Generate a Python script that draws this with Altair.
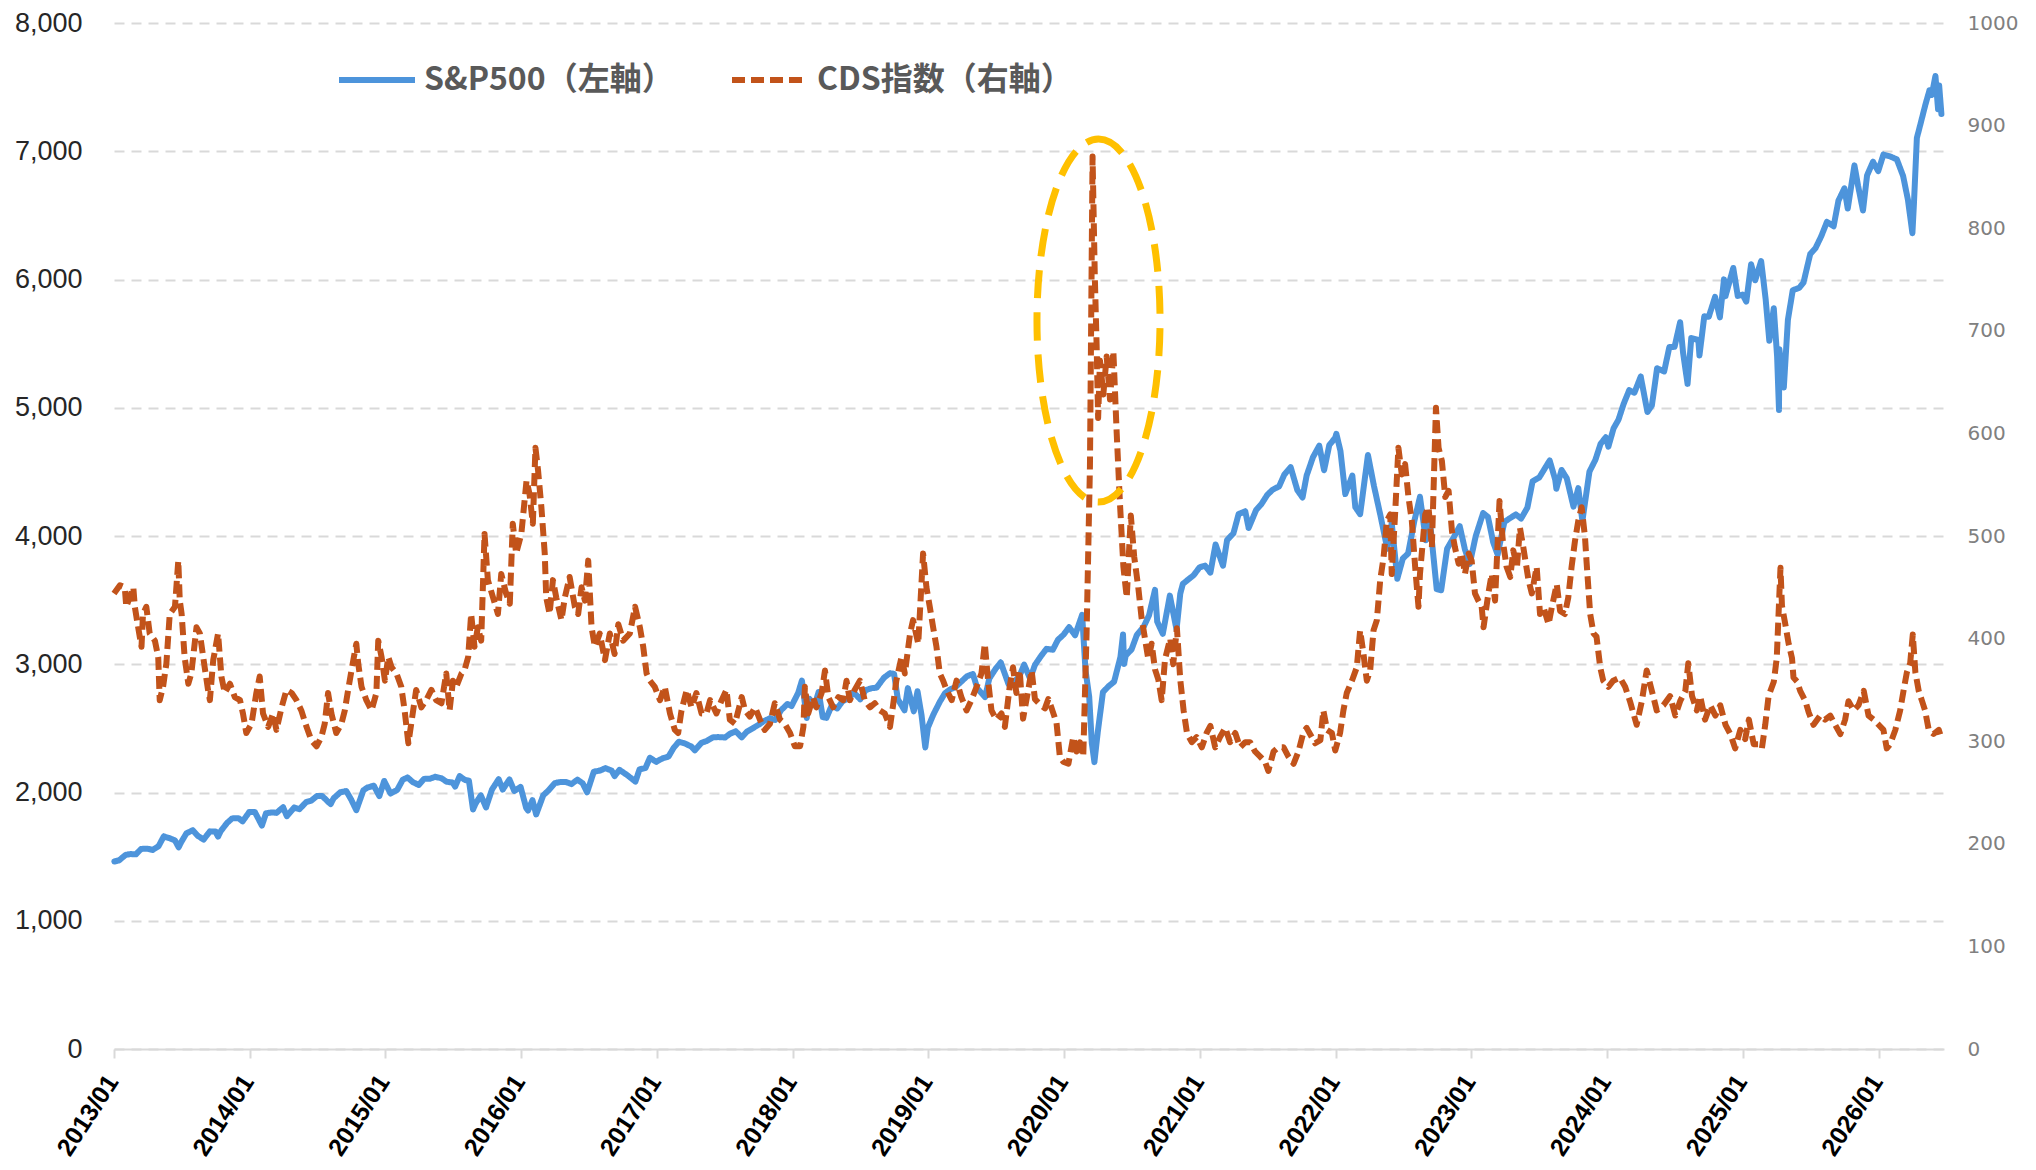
import altair as alt
import pandas as pd

SP_NAME = "S&P500（左軸）"
CDS_NAME = "CDS指数（右軸）"

# S&P500 (left axis)
sp_dates = [
    "2013-01-02","2013-01-15","2013-02-01","2013-02-15","2013-03-01","2013-03-15","2013-04-01","2013-04-15",
    "2013-05-01","2013-05-15","2013-06-03","2013-06-14","2013-06-24","2013-07-01","2013-07-15","2013-08-01",
    "2013-08-15","2013-08-30","2013-09-16","2013-10-01","2013-10-08","2013-10-15","2013-11-01","2013-11-15",
    "2013-12-02","2013-12-13","2013-12-31",
    "2014-01-15","2014-02-03","2014-02-14","2014-03-03","2014-03-14","2014-04-01","2014-04-11","2014-05-01",
    "2014-05-15","2014-06-02","2014-06-16","2014-07-01","2014-07-15","2014-08-01","2014-08-07","2014-08-15",
    "2014-09-02","2014-09-18","2014-10-01","2014-10-15","2014-11-03","2014-11-14","2014-12-01","2014-12-16",
    "2014-12-29",
    "2015-01-15","2015-02-02","2015-02-17","2015-03-02","2015-03-16","2015-04-01","2015-04-15","2015-05-01",
    "2015-05-15","2015-06-01","2015-06-15","2015-07-01","2015-07-08","2015-07-20","2015-08-03","2015-08-14",
    "2015-08-25","2015-09-01","2015-09-15","2015-09-29","2015-10-15","2015-11-02","2015-11-13","2015-12-01",
    "2015-12-14","2015-12-31",
    "2016-01-15","2016-01-20","2016-02-01","2016-02-11","2016-03-01","2016-03-15","2016-04-01","2016-04-15",
    "2016-05-02","2016-05-16","2016-06-01","2016-06-15","2016-06-27","2016-07-15","2016-08-01","2016-08-15",
    "2016-09-01","2016-09-09","2016-09-22","2016-10-14","2016-11-04","2016-11-15","2016-12-01","2016-12-13",
    "2016-12-30",
    "2017-01-17","2017-02-01","2017-02-15","2017-03-01","2017-03-15","2017-04-03","2017-04-13","2017-05-01",
    "2017-05-15","2017-06-01","2017-06-15","2017-07-03","2017-07-17","2017-08-01","2017-08-17","2017-09-01",
    "2017-09-15","2017-10-02","2017-10-16","2017-11-01","2017-11-15","2017-12-01","2017-12-18","2017-12-29",
    "2018-01-16","2018-01-26","2018-02-08","2018-02-15","2018-03-01","2018-03-12","2018-03-23","2018-04-02",
    "2018-04-16","2018-05-01","2018-05-15","2018-06-01","2018-06-15","2018-07-02","2018-07-16","2018-08-01",
    "2018-08-15","2018-09-04","2018-09-20","2018-10-01","2018-10-11","2018-10-29","2018-11-07","2018-11-23",
    "2018-12-03","2018-12-14","2018-12-24","2018-12-31",
    "2019-01-15","2019-02-01","2019-02-15","2019-03-01","2019-03-15","2019-04-01","2019-04-15","2019-05-01",
    "2019-05-13","2019-06-03","2019-06-14","2019-07-01","2019-07-15","2019-08-05","2019-08-15","2019-09-03",
    "2019-09-16","2019-10-02","2019-10-15","2019-11-01","2019-11-15","2019-12-02","2019-12-16","2019-12-31",
    "2020-01-15","2020-01-31","2020-02-19","2020-02-28","2020-03-09","2020-03-16","2020-03-23","2020-04-01",
    "2020-04-15","2020-05-01","2020-05-15","2020-06-01","2020-06-08","2020-06-11","2020-06-15","2020-07-01",
    "2020-07-15","2020-08-03","2020-08-17","2020-09-02","2020-09-08","2020-09-23","2020-10-12","2020-10-30",
    "2020-11-09","2020-11-16","2020-12-01","2020-12-15","2020-12-31",
    "2021-01-15","2021-01-29","2021-02-12","2021-03-04","2021-03-15","2021-04-01","2021-04-15","2021-05-03",
    "2021-05-12","2021-06-01","2021-06-15","2021-07-01","2021-07-15","2021-08-02","2021-08-16","2021-09-02",
    "2021-09-20","2021-10-04","2021-10-15","2021-11-01","2021-11-18","2021-12-01","2021-12-15","2021-12-31",
    "2022-01-03","2022-01-14","2022-01-27","2022-02-15","2022-02-23","2022-03-08","2022-03-29","2022-04-14",
    "2022-05-02","2022-05-20","2022-06-01","2022-06-16","2022-07-01","2022-07-15","2022-08-01","2022-08-16",
    "2022-09-01","2022-09-12","2022-09-30","2022-10-12","2022-10-28","2022-11-15","2022-12-01","2022-12-15",
    "2022-12-28",
    "2023-01-13","2023-02-02","2023-02-15","2023-03-01","2023-03-13","2023-03-31","2023-04-14","2023-05-01",
    "2023-05-15","2023-06-01","2023-06-15","2023-07-03","2023-07-31","2023-08-15","2023-08-18","2023-09-01",
    "2023-09-15","2023-10-03","2023-10-16","2023-10-27","2023-11-15","2023-12-01","2023-12-15","2023-12-29",
    "2024-01-05","2024-01-19","2024-02-01","2024-02-15","2024-03-01","2024-03-15","2024-04-01","2024-04-19",
    "2024-05-01","2024-05-15","2024-06-03","2024-06-17","2024-07-01","2024-07-16","2024-07-24","2024-08-05",
    "2024-08-15","2024-09-03","2024-09-06","2024-09-19","2024-10-01","2024-10-18","2024-10-31","2024-11-11",
    "2024-11-15","2024-12-06","2024-12-18","2024-12-31",
    "2025-01-10","2025-01-23","2025-02-03","2025-02-19","2025-03-03","2025-03-13","2025-03-25","2025-04-03",
    "2025-04-08","2025-04-09","2025-04-21","2025-05-02","2025-05-15","2025-06-02","2025-06-13","2025-07-01",
    "2025-07-15","2025-07-31","2025-08-15","2025-09-02","2025-09-15","2025-10-01","2025-10-10","2025-10-28",
    "2025-11-07","2025-11-20","2025-12-01","2025-12-17","2025-12-31",
    "2026-01-14","2026-02-01","2026-02-19","2026-03-08","2026-03-21","2026-04-02","2026-04-06","2026-04-14",
    "2026-04-24","2026-05-07","2026-05-18","2026-05-24","2026-06-03","2026-06-10","2026-06-13","2026-06-19",
]
sp_values = [
    1462,1472,1513,1520,1518,1560,1562,1552,1582,1658,1640,1626,1573,1614,1682,1706,
    1661,1633,1697,1695,1656,1698,1762,1798,1800,1775,1848,
    1848,1742,1838,1845,1841,1885,1815,1883,1870,1925,1937,1973,1973,1925,1910,1955,
    2002,2011,1946,1862,2017,2039,2053,1972,2090,
    1992,2020,2100,2117,2081,2059,2106,2108,2122,2111,2084,2077,2046,2128,2098,2092,
    1868,1914,1978,1884,2023,2104,2023,2102,2012,2044,
    1880,1859,1940,1829,1978,2016,2073,2081,2081,2066,2100,2072,2001,2162,2171,2190,
    2171,2128,2177,2133,2085,2180,2191,2271,2239,
    2268,2280,2349,2396,2385,2359,2329,2388,2402,2431,2432,2429,2459,2477,2430,2477,
    2500,2529,2557,2579,2565,2642,2690,2674,
    2777,2873,2581,2731,2678,2784,2588,2582,2677,2655,2711,2735,2780,2726,2798,2813,
    2818,2896,2930,2924,2728,2641,2814,2633,2790,2600,2351,2507,
    2610,2707,2775,2804,2822,2868,2906,2924,2812,2744,2887,2964,3014,2844,2848,2906,
    2997,2887,2995,3067,3120,3113,3191,3231,
    3289,3226,3386,2954,2747,2386,2237,2470,2783,2831,2864,3056,3232,3002,3066,3116,
    3227,3295,3382,3580,3332,3237,3535,3270,3550,3627,3662,3694,3756,
    3768,3714,3934,3768,3969,4020,4171,4192,4063,4202,4247,4320,4360,4387,4479,4537,
    4358,4300,4471,4614,4704,4513,4709,4766,
    4797,4663,4327,4471,4225,4170,4631,4393,4155,3901,4101,3667,3825,3863,4119,4305,
    3967,4110,3586,3577,3901,3991,4076,3895,3783,
    3999,4179,4148,3951,3855,4109,4137,4168,4136,4221,4426,4456,4589,4438,4369,4515,
    4450,4229,4373,4117,4502,4594,4719,4770,
    4697,4840,4906,5030,5137,5117,5243,4967,5018,5308,5283,5473,5475,5667,5427,5186,
    5543,5528,5408,5713,5709,5864,5705,6001,5870,6090,5872,5882,
    5827,6119,5994,6144,5850,5522,5776,5397,4983,5457,5158,5686,5916,5936,5977,6198,
    6243,6339,6449,6415,6615,6711,6553,6890,6728,6538,6812,6918,6845,
    6974,6960,6937,6807,6621,6361,6584,7104,7216,7364,7476,7439,7587,7327,7513,7290,
]

cds_t = [
    2013.000,2013.044,2013.081,2013.093,2013.143,2013.155,2013.179,2013.204,2013.216,2013.241,2013.265,2013.302,
    2013.327,2013.339,2013.364,2013.388,2013.413,2013.450,2013.474,2013.486,2013.499,2013.523,2013.548,2013.572,
    2013.609,2013.634,2013.671,2013.695,2013.708,2013.732,2013.769,2013.794,2013.818,2013.855,2013.892,2013.929,
    2013.953,2013.978,2014.015,2014.052,2014.076,2014.101,2014.138,2014.174,2014.199,2014.236,2014.273,2014.310,
    2014.346,2014.383,2014.420,2014.457,2014.494,2014.531,2014.555,2014.580,2014.604,2014.641,2014.678,2014.703,
    2014.727,2014.752,2014.789,2014.801,2014.826,2014.862,2014.899,2014.936,2014.948,2014.973,2014.998,2015.022,
    2015.047,2015.084,2015.120,2015.145,2015.170,2015.206,2015.230,2015.267,2015.304,2015.341,2015.377,2015.414,
    2015.451,2015.476,2015.500,2015.525,2015.562,2015.586,2015.611,2015.635,2015.660,2015.684,2015.709,2015.734,
    2015.758,2015.795,2015.832,2015.856,2015.893,2015.918,2015.942,2015.967,2016.004,2016.041,2016.065,2016.090,
    2016.109,2016.127,2016.151,2016.176,2016.188,2016.213,2016.237,2016.262,2016.298,2016.323,2016.360,2016.397,
    2016.421,2016.446,2016.470,2016.495,2016.520,2016.544,2016.581,2016.618,2016.655,2016.691,2016.716,2016.753,
    2016.802,2016.839,2016.876,2016.900,2016.925,2016.949,2016.986,2017.023,2017.060,2017.097,2017.134,2017.158,
    2017.183,2017.220,2017.256,2017.293,2017.330,2017.367,2017.392,2017.441,2017.478,2017.515,2017.539,2017.576,
    2017.625,2017.650,2017.687,2017.724,2017.760,2017.797,2017.834,2017.871,2017.908,2017.945,2017.981,2018.018,
    2018.055,2018.080,2018.092,2018.117,2018.153,2018.178,2018.215,2018.239,2018.264,2018.301,2018.338,2018.374,
    2018.399,2018.424,2018.460,2018.497,2018.534,2018.571,2018.608,2018.645,2018.681,2018.718,2018.743,2018.767,
    2018.804,2018.829,2018.866,2018.890,2018.927,2018.964,2018.988,2019.013,2019.038,2019.062,2019.087,2019.111,
    2019.136,2019.173,2019.209,2019.246,2019.283,2019.320,2019.357,2019.394,2019.418,2019.443,2019.467,2019.504,
    2019.541,2019.566,2019.602,2019.627,2019.651,2019.676,2019.701,2019.738,2019.763,2019.787,2019.824,2019.861,
    2019.885,2019.910,2019.947,2019.971,2019.996,2020.033,2020.070,2020.094,2020.119,2020.143,2020.168,2020.192,
    2020.212,2020.229,2020.242,2020.254,2020.266,2020.291,2020.315,2020.340,2020.364,2020.389,2020.413,2020.438,
    2020.463,2020.492,2020.517,2020.549,2020.573,2020.598,2020.622,2020.647,2020.671,2020.696,2020.720,2020.745,
    2020.782,2020.806,2020.831,2020.856,2020.880,2020.905,2020.942,2020.978,2021.015,2021.052,2021.077,2021.113,
    2021.150,2021.187,2021.224,2021.261,2021.298,2021.335,2021.371,2021.408,2021.445,2021.482,2021.506,2021.543,
    2021.580,2021.617,2021.654,2021.691,2021.727,2021.764,2021.789,2021.851,2021.888,2021.912,2021.937,2021.974,
    2021.998,2022.035,2022.060,2022.084,2022.121,2022.158,2022.182,2022.207,2022.232,2022.256,2022.281,2022.305,
    2022.330,2022.354,2022.379,2022.403,2022.416,2022.440,2022.465,2022.489,2022.514,2022.538,2022.563,2022.588,
    2022.612,2022.624,2022.661,2022.686,2022.710,2022.742,2022.760,2022.784,2022.809,2022.833,2022.858,2022.882,
    2022.907,2022.931,2022.956,2022.981,2023.005,2023.030,2023.054,2023.079,2023.091,2023.128,2023.153,2023.177,
    2023.209,2023.234,2023.263,2023.288,2023.312,2023.337,2023.361,2023.386,2023.423,2023.447,2023.484,2023.509,
    2023.533,2023.570,2023.595,2023.631,2023.656,2023.693,2023.717,2023.742,2023.766,2023.791,2023.816,2023.840,
    2023.852,2023.877,2023.902,2023.926,2023.951,2023.975,2024.012,2024.049,2024.098,2024.135,2024.172,2024.221,
    2024.258,2024.294,2024.331,2024.368,2024.417,2024.466,2024.503,2024.540,2024.577,2024.601,2024.626,2024.663,
    2024.687,2024.724,2024.761,2024.798,2024.835,2024.872,2024.908,2024.945,2024.982,2025.019,2025.044,2025.080,
    2025.117,2025.142,2025.166,2025.191,2025.228,2025.252,2025.277,2025.289,2025.314,2025.338,2025.363,2025.375,
    2025.400,2025.424,2025.461,2025.486,2025.522,2025.572,2025.608,2025.645,2025.682,2025.719,2025.756,2025.780,
    2025.817,2025.854,2025.891,2025.928,2025.965,2026.001,2026.038,2026.063,2026.087,2026.124,2026.161,2026.186,
    2026.210,2026.235,2026.254,2026.272,2026.296,2026.321,2026.345,2026.370,2026.407,2026.444,2026.468,
]
cds_v = [
    444,452,450,431,450,431,411,392,424,431,405,398,
    382,340,353,376,424,431,476,437,424,382,356,366,
    411,405,372,350,340,379,405,363,347,356,343,340,
    327,308,317,347,363,327,314,327,311,333,350,347,
    340,330,314,301,295,304,317,347,327,308,317,330,
    350,369,395,376,353,340,330,347,398,382,359,382,
    372,366,353,330,298,330,350,333,340,350,340,337,
    366,330,359,353,366,369,382,424,392,411,398,502,
    457,440,424,463,444,434,512,483,502,554,541,512,
    586,564,528,483,440,424,457,440,418,440,460,431,
    424,450,437,476,411,392,405,379,405,385,414,398,
    405,431,411,392,366,359,353,340,353,327,311,308,
    330,350,333,347,327,327,340,327,340,350,321,317,
    343,330,324,333,321,311,317,337,321,317,308,295,
    295,314,353,327,343,333,347,369,343,333,343,340,
    359,340,350,359,340,333,337,330,327,314,337,359,
    382,366,405,418,395,483,450,431,411,392,366,359,
    350,340,359,343,330,340,353,366,395,359,330,321,
    327,314,353,372,347,369,322,350,369,341,336,332,
    341,332,318,285,280,278,304,290,299,285,406,568,
    870,754,685,615,671,638,675,633,680,600,530,470,
    440,520,480,450,420,400,380,395,370,360,340,380,
    400,375,410,360,330,308,299,304,294,308,315,294,
    304,313,299,308,294,299,299,290,285,280,271,290,
    294,294,285,278,290,308,313,298,301,330,311,308,
    291,308,330,347,359,372,408,385,359,369,408,418,
    457,479,515,521,463,521,586,560,570,538,515,470,
    431,463,521,528,489,625,586,573,538,544,505,489,
    473,483,463,483,476,444,437,431,411,444,463,437,
    534,495,470,460,486,470,508,489,457,444,470,424,
    431,414,431,453,427,424,440,470,495,515,528,499,
    476,424,405,402,372,359,353,359,362,353,339,316,
    339,369,349,330,335,344,325,339,349,376,344,330,
    344,321,335,325,335,316,307,293,311,302,321,297,
    297,293,316,344,358,381,469,432,414,395,381,362,
    358,349,339,328,316,325,321,325,316,307,321,339,
    330,335,349,325,321,316,311,293,297,311,330,349,
    367,376,404,367,349,339,330,311,307,311,302,
]

# Annotation ellipse around the 2020 spike (center, right-axis units)
ellipse_date = ["2020-04-03"]
ellipse_value = [710]


def frac_year_to_date(t):
    year = int(t)
    start = pd.Timestamp(year=year, month=1, day=1)
    end = pd.Timestamp(year=year + 1, month=1, day=1)
    return (start + (end - start) * (t - year)).strftime("%Y-%m-%d")


sp_df = pd.DataFrame({"date": sp_dates, "value": sp_values, "series": SP_NAME})
cds_df = pd.DataFrame({"date": [frac_year_to_date(t) for t in cds_t], "value": cds_v, "series": CDS_NAME})
ell_df = pd.DataFrame({"date": ellipse_date, "value": ellipse_value})

BLUE = "#4D94DB"
ORANGE = "#C2531A"
GOLD = "#FFC000"

x_scale = alt.Scale(
    type="utc",
    domain=[alt.DateTime(year=2013, month=1, date=1, utc=True),
            alt.DateTime(year=2026, month=6, date=26, utc=True)],
)
x_axis = alt.Axis(
    title=None,
    values=[alt.DateTime(year=y, month=1, date=1, utc=True) for y in range(2013, 2027)],
    format="%Y/%m",
    labelAngle=-57,
    labelAlign="right",
    labelBaseline="middle",
    labelFont="Liberation Sans",
    labelFontSize=25,
    labelFontWeight="bold",
    labelColor="#000000",
    labelPadding=19,
    labelOffset=-2,
    labelOverlap=False,
    labelFlush=False,
    domainColor="#D9D9D9",
    domainWidth=2,
    tickColor="#D9D9D9",
    tickWidth=2,
    tickSize=9,
    grid=False,
)
x_enc = alt.X("date:T", scale=x_scale, axis=x_axis)

legend = alt.Legend(
    title=None,
    orient="none",
    legendX=222,
    legendY=16,
    direction="horizontal",
    symbolType="stroke",
    symbolSize=5776,
    symbolStrokeWidth=6,
    labelFont="Noto Sans CJK JP",
    labelFontSize=32,
    labelFontWeight="bold",
    labelColor="#595959",
    labelLimit=1000,
    labelOffset=6,
    columnPadding=46,
    padding=0,
)
color_enc = alt.Color(
    "series:N",
    scale=alt.Scale(domain=[SP_NAME, CDS_NAME], range=[BLUE, ORANGE]),
    legend=legend,
)
dash_enc = alt.StrokeDash(
    "series:N",
    scale=alt.Scale(domain=[SP_NAME, CDS_NAME], range=[[1, 0], [13, 6]]),
    legend=legend,
)

sp_line = alt.Chart(sp_df).mark_line(strokeWidth=6, strokeCap="round", strokeJoin="round").encode(
    x=x_enc,
    y=alt.Y(
        "value:Q",
        scale=alt.Scale(domain=[0, 8000], nice=False, zero=True),
        axis=alt.Axis(
            orient="left",
            title=None,
            values=list(range(0, 8001, 1000)),
            format=",d",
            domain=False,
            ticks=False,
            labelFont="Liberation Sans Narrow, Liberation Sans",
            labelFontSize=27,
            labelColor="#262626",
            labelPadding=32,
            grid=True,
            gridColor="#D9D9D9",
            gridDash=[10, 7],
            gridWidth=2,
        ),
    ),
    color=color_enc,
    strokeDash=dash_enc,
)

cds_line = alt.Chart(cds_df).mark_line(strokeWidth=6, strokeCap="butt", strokeJoin="round").encode(
    x=x_enc,
    y=alt.Y(
        "value:Q",
        scale=alt.Scale(domain=[0, 1000], nice=False, zero=True),
        axis=alt.Axis(
            orient="right",
            title=None,
            values=list(range(0, 1001, 100)),
            format="d",
            domain=False,
            ticks=False,
            grid=False,
            labelFont="DejaVu Sans",
            labelFontSize=20,
            labelColor="#808080",
            labelPadding=23,
        ),
    ),
    color=color_enc,
    strokeDash=dash_enc,
)

RX = 0.339
K = 0.5523
ellipse_path = (
    f"M 0 -1 C {K*RX:.4f} -1 {RX} {-K:.4f} {RX} 0 "
    f"C {RX} {K:.4f} {K*RX:.4f} 1 0 1 "
    f"C {-K*RX:.4f} 1 {-RX} {K:.4f} {-RX} 0 "
    f"C {-RX} {-K:.4f} {-K*RX:.4f} -1 0 -1 Z"
)

ellipse = alt.Chart(ell_df).mark_point(
    shape=ellipse_path,
    size=363 * 363,
    filled=False,
    stroke=GOLD,
    strokeWidth=7,
    strokeDash=[28, 14],
    opacity=1,
).encode(
    x=x_enc,
    y=alt.Y("value:Q", scale=alt.Scale(domain=[0, 1000], nice=False, zero=True), axis=None),
)

chart = (
    alt.layer(sp_line, cds_line, ellipse)
    .resolve_scale(y="independent")
    .properties(
        width=1830,
        height=1026,
        padding={"left": 106, "top": 15, "right": 84, "bottom": 113},
        autosize=alt.AutoSizeParams(type="none"),
        background="white",
    )
    .configure_view(stroke=None)
)

chart.save("out.html", embed_options={"renderer": "svg", "actions": False})
